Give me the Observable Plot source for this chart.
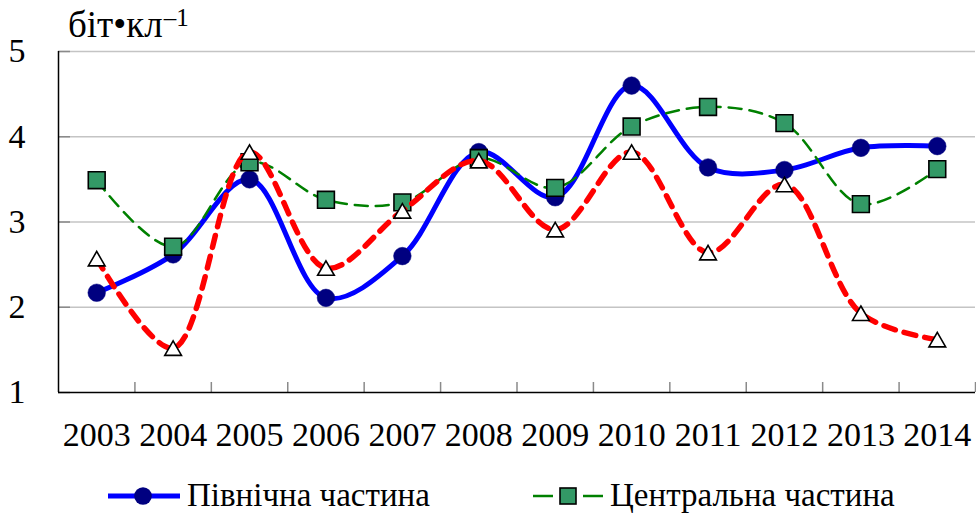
<!DOCTYPE html>
<html>
<head>
<meta charset="utf-8">
<script src="https://cdn.jsdelivr.net/npm/d3@7"></script>
<script src="https://cdn.jsdelivr.net/npm/@observablehq/plot@0.6"></script>
<style>
  body { margin: 0; background: #fff; }
  #wrap { position: relative; width: 976px; height: 521px; overflow: hidden; background: #fff; color: #000; }
  #unit { position: absolute; left: 68px; top: 6px; font-size: 37px; line-height: 37px; white-space: nowrap; }
  #unit span { font-size: 25px; position: relative; top: -11px; margin-left: 1px; }
  #chart { position: absolute; left: 0; top: 0; }
  .leg { position: absolute; top: 470px; height: 51px; display: flex; align-items: center;
         font-size: 33px; white-space: nowrap; }
  .leg svg { display: block; margin-right: 4px; }
</style>
</head>
<body>
<div id="wrap">
  <div id="chart"></div>
  <div id="unit" style="font-family:'Liberation Serif'">біт•кл<span>–1</span></div>
  <div id="legend"></div>
</div>
<script>
// ---- data ----
const years = [2003, 2004, 2005, 2006, 2007, 2008, 2009, 2010, 2011, 2012, 2013, 2014];
const north   = [2.17, 2.62, 3.50, 2.11, 2.60, 3.82, 3.29, 4.60, 3.64, 3.61, 3.87, 3.89];
const central = [3.49, 2.71, 3.70, 3.26, 3.23, 3.75, 3.40, 4.12, 4.35, 4.16, 3.21, 3.62];
const south   = [2.57, 1.52, 3.82, 2.46, 3.13, 3.72, 2.91, 3.82, 2.64, 3.44, 1.93, 1.62];
const seriesNames = ["Північна частина", "Центральна частина", "Південна частина"];
const yTicks = [1, 2, 3, 4, 5];

// ---- build ----
const rows = vals => years.map((yr, i) => ({year: yr, value: vals[i]}));
const N = rows(north), C = rows(central), S = rows(south);
const bounds = years.map(y => y + 0.5);

const plot = Plot.plot({
  width: 976,
  height: 470,
  marginLeft: 58,
  marginRight: 1,
  marginTop: 51,
  marginBottom: 78,
  x: {domain: [years[0] - 0.5, years[years.length - 1] + 0.5]},
  y: {domain: [yTicks[0], yTicks[yTicks.length - 1]]},
  style: {background: "white", overflow: "visible", color: "black"},
  marks: [
    Plot.gridY(yTicks.slice(1), {stroke: "#c4c4c4", strokeOpacity: 1, strokeWidth: 1.5}),
    Plot.axisY(yTicks, {tickSize: -12, stroke: "#8a8a8a", strokeWidth: 1.5, tickFormat: () => "", label: null}),
    Plot.axisY(yTicks, {tickSize: 0, tickPadding: 33, fontSize: 34, tickFormat: d => String(d), label: null}),
    Plot.axisX(bounds, {tickSize: -10, stroke: "#8a8a8a", strokeWidth: 1.5, tickFormat: () => "", label: null}),
    Plot.axisX(years, {tickSize: 0, tickPadding: 29, fontSize: 34, tickFormat: d => String(d), label: null}),
    Plot.ruleX([years[0] - 0.5], {stroke: "black", strokeWidth: 1.5}),
    Plot.ruleY([yTicks[0]], {stroke: "black", strokeWidth: 1.5}),

    Plot.line(N, {x: "year", y: "value", stroke: "#0000ff", strokeWidth: 5, curve: "catmull-rom"}),
    Plot.dot(N, {x: "year", y: "value", r: 8.8, fill: "#000080", stroke: "#000080", strokeWidth: 0.5}),

    Plot.line(C, {x: "year", y: "value", stroke: "#008000", strokeWidth: 2.5, strokeDasharray: "13,8", curve: "catmull-rom"}),
    Plot.dot(C, {x: "year", y: "value", symbol: "square", r: 9.5, fill: "#339966", stroke: "black", strokeWidth: 1.6}),

    Plot.line(S, {x: "year", y: "value", stroke: "#ff0000", strokeWidth: 5.5, strokeDasharray: "12,9", curve: "catmull-rom"}),
    Plot.dot(S, {x: "year", y: "value", symbol: "triangle", r: 6.2, dy: 2.4, fill: "white", stroke: "black", strokeWidth: 1.6})
  ]
});
plot.style.fontFamily = "'Liberation Serif'";
plot.querySelectorAll("text").forEach(t => {
  t.setAttribute("font-family", "Liberation Serif");
  t.style.fontFamily = "'Liberation Serif'";
});
document.getElementById("chart").appendChild(plot);

// ---- legend (two visible entries) ----
const legend = document.getElementById("legend");
const items = [
  {left: 105, name: seriesNames[0],
   svg: `<svg width="78" height="30"><line x1="3" y1="15" x2="75" y2="15" stroke="#0000ff" stroke-width="5"/><circle cx="38" cy="15" r="8.8" fill="#000080"/></svg>`},
  {left: 531, name: seriesNames[1],
   svg: `<svg width="75" height="30"><line x1="2" y1="15" x2="22" y2="15" stroke="#008000" stroke-width="2.5"/><line x1="52" y1="15" x2="72" y2="15" stroke="#008000" stroke-width="2.5"/><rect x="29" y="7" width="16" height="16" fill="#339966" stroke="black" stroke-width="1.6"/></svg>`}
];
for (const it of items) {
  const d = document.createElement("div");
  d.className = "leg";
  d.style.left = it.left + "px";
  d.style.fontFamily = "'Liberation Serif'";
  d.innerHTML = it.svg + `<span>${it.name}</span>`;
  legend.appendChild(d);
}
</script>
</body>
</html>
